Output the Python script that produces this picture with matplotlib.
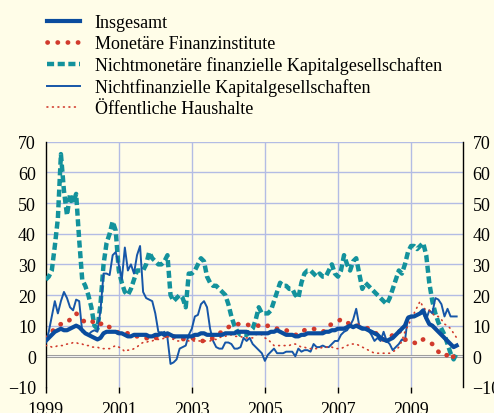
import numpy as np
import matplotlib
matplotlib.use('Agg')
import matplotlib.pyplot as plt
from matplotlib.lines import Line2D

# monthly values, Jan 1999 .. Apr 2010
insgesamt = [
    5, 6, 7, 8, 8.5, 9, 8.5, 8.5, 9, 9.5, 10, 9.5,
    8.5, 7.5, 7, 6.5, 6, 5.5, 6, 7.5, 8, 8, 8, 8,
    7.5, 7.5, 7, 6.5, 6.5, 7, 7, 7, 7, 7, 6.5, 6.5,
    7, 7, 7.5, 7, 7.5, 7, 6.5, 6.5, 6.5, 6.5, 6.5, 6.5,
    6.5, 7, 7, 7.5, 7.5, 7, 7, 7, 7, 7, 7, 7.5,
    7.5, 7.5, 7.5, 8, 8, 8, 8, 7.5, 7.5, 7.5, 7.5, 7.5,
    7.5, 7.5, 8, 8, 8.5, 8, 7.5, 7, 7, 7, 6.5, 6.5,
    7, 7, 7.5, 7.5, 7.5, 7.5, 7.5, 7.5, 8, 8, 8.5, 8.5,
    9, 9, 9, 9.5, 10, 9.5, 10, 9.5, 9, 9, 8.5, 8,
    7.5, 7, 6, 5.5, 5, 5.5, 6, 7, 8, 9, 10, 12.5,
    13, 13, 13.5, 14, 15, 12.5, 10.5, 10, 9, 8, 7, 6,
    5, 4, 3, 3.5,
]
mfi = [
    6, 7, 8, 9, 10, 10.5, 10.5, 11, 12, 13, 14, 13,
    12, 11, 11, 11.5, 11, 10, 10.5, 11, 10, 9.5, 9, 8.5,
    7.5, 7.5, 7.5, 7.5, 7, 7, 6.5, 6.5, 6.5, 6, 5.5, 6,
    6, 6, 6.5, 6.5, 7, 7.5, 6.5, 6, 5.5, 5.5, 6, 6,
    6, 5.5, 5.5, 5, 5, 5.5, 5.5, 6, 6.5, 7.5, 8, 8.5,
    9.5, 10, 10.5, 10.5, 10.5, 10.5, 10.5, 10, 10, 10, 10, 10,
    9.5, 10, 10, 9.5, 9, 8.5, 8.5, 8.5, 8, 7.5, 7, 7,
    8, 8.5, 9, 9, 9, 8.5, 8.5, 8, 8.5, 10, 10.5, 11,
    11.5, 12, 12, 11, 10.5, 10, 10, 10, 10, 9.5, 9, 8.5,
    8, 7, 5.5, 5.5, 5.5, 6, 7, 8, 8.5, 7, 5.5, 5,
    5, 4.5, 4, 5, 5.5, 5, 4.5, 4, 3, 1.5, 0.5, 0,
    0.5, -1, 0, 1,
]
nmfi = [
    25, 26, 28, 36, 45, 66, 54, 46, 53, 50, 53, 38,
    25, 23, 20, 16, 10, 9, 17, 30, 37, 40, 44, 41,
    28, 24, 21, 20, 22, 25, 28, 28, 28, 30, 34, 32,
    31, 30, 30, 31, 33, 20, 18, 19, 20, 19, 16, 27,
    27, 28, 30, 32, 31, 26, 24, 23, 23, 22, 21, 20,
    17, 13, 10, 8, 7, 7, 7, 8, 9, 12, 16, 14,
    14, 14, 15, 18, 21, 24, 23, 23, 22, 22, 20, 19,
    24, 27, 28, 28, 27, 26, 27, 26, 26, 28, 30, 27,
    26, 28, 33, 30, 28, 31, 32, 27, 22, 24, 23, 22,
    21, 20, 19, 18, 17, 19, 22, 25, 28, 27, 30, 34,
    36, 36, 35, 36, 37, 33, 24, 18, 14, 11, 9, 7,
    4, 1, -1, 1,
]
nfk = [
    4.5, 8, 13, 18, 14, 18, 21, 19, 16, 15, 18.5, 18,
    8, 7.5, 7, 8, 8.5, 8, 15, 27, 27, 26.5, 33, 34,
    30, 25, 35.5, 28, 30, 27, 33, 36, 21, 19, 18.5, 18,
    14, 8, 7.5, 8, 6, -2.5, -2, -1, 2.5, 3, 3.5, 7,
    9, 13, 13.5, 17, 18, 16, 9, 5, 3, 2.5, 2.5, 4.5,
    4.5, 4, 2.5, 2.5, 3, 6, 5, 6, 4, 3, 2, 1,
    -1.5, 0.5, 1.5, 2.5, 1, 1, 1, 1.5, 1.5, 1.5, 0, 2.5,
    1.5, 2, 2, 1.5, 4, 3, 3, 3.5, 3, 3, 4, 5,
    5, 7, 8, 8.5, 10, 12, 15.5, 10, 9.5, 9, 8.5, 7,
    5, 6, 5, 8, 5, 4, 2, 3, 4, 5.5, 5, 13,
    13, 13, 13.5, 14, 14, 12, 15, 14, 19, 18.5, 17, 13,
    15.5, 13, 13, 13,
]
oeff = [
    3.5, 3.5, 3, 3, 3.5, 3.5, 3.5, 4, 4, 4.5, 4.5, 4,
    4, 3.5, 3.5, 3, 3, 3, 2.5, 2.5, 2.5, 2.5, 3, 3.5,
    3, 2.5, 1.5, 2, 2, 2.5, 3, 4, 4.5, 4.5, 5, 5,
    5.5, 5.5, 5.5, 6, 6.5, 6, 5.5, 5, 5, 5.5, 5.5, 5,
    5, 5, 5, 5, 5, 5, 5, 5.5, 5.5, 6, 6.5, 6.5,
    7, 7, 6.5, 6.5, 6.5, 6, 6, 6, 6, 7, 7.5, 7,
    6, 5.5, 4.5, 3.5, 3.5, 3.5, 3.5, 3.5, 3.5, 4, 4, 3.5,
    3, 3, 2.5, 2.5, 2.5, 2.5, 2.5, 3, 3, 3, 3, 2.5,
    2.5, 2.5, 3, 3.5, 4, 4, 4, 3.5, 3, 2.5, 2, 1.5,
    1, 1, 1, 1, 1, 1, 1.5, 2, 3, 5, 8, 10,
    12, 14, 16, 18, 16, 15, 15, 14, 13, 13, 12, 10.5,
    10, 9, 7.5, 6,
]
labels = ['Insgesamt', 'Monetäre Finanzinstitute',
          'Nichtmonetäre finanzielle Kapitalgesellschaften',
          'Nichtfinanzielle Kapitalgesellschaften', 'Öffentliche Haushalte']
year_ticks = [1999, 2001, 2003, 2005, 2007, 2009]

t = 1999 + np.arange(len(insgesamt)) / 12.0

bg = '#FFFDE8'
dark_blue = '#0A4C9E'
blue = '#1656A8'
red = '#D13A2C'
teal = '#13929C'
grid_c = '#B3BCE4'

plt.rcParams['font.family'] = ['Liberation Serif', 'DejaVu Serif']

fig = plt.figure(figsize=(4.94, 4.14), dpi=100, facecolor=bg)
ax = fig.add_axes([0.0925, 0.063, 0.8445, 0.592], facecolor=bg)

ax.plot(t, nmfi, color=teal, lw=3.2, linestyle=(0, (1.6, 0.8)), zorder=3)
ax.plot(t, nfk, color=blue, lw=1.4, zorder=4)
ax.plot(t, oeff, color=red, lw=1.2, linestyle=(0, (0.5, 2.8)), dash_capstyle='round', zorder=4)
ax.plot(t, mfi, color=red, lw=3.4, linestyle=(0, (0.05, 2.1)), dash_capstyle='round', zorder=5)
ax.plot(t, insgesamt, color=dark_blue, lw=3.0, zorder=6)

ax.axhline(0, color='#9E9E9E', lw=2.2, zorder=2)
ax.axhline(0, color='white', lw=0.6, zorder=2)

ax.set_xlim(1999, 2010.42)
ax.set_ylim(-10, 70)
ax.set_yticks(range(-10, 71, 10))
ax.set_xticks(year_ticks)
ax.set_xticklabels([str(y) for y in year_ticks])

for yv in range(10, 71, 10):
    ax.axhline(yv, color=grid_c, lw=1.0, zorder=1)
for xv in year_ticks[1:]:
    ax.axvline(xv, color=grid_c, lw=1.0, zorder=1)

for s in ['top', 'bottom']:
    ax.spines[s].set_visible(False)
ax.spines['left'].set_linewidth(1.0)
ax.spines['right'].set_linewidth(1.0)

ax.tick_params(axis='y', length=0, pad=7, labelsize=13, left=True, right=True,
               labelleft=True, labelright=True)
ax.tick_params(axis='x', length=4, width=1, pad=6, labelsize=13, direction='out')

handles = [
    Line2D([], [], color=dark_blue, lw=3.0),
    Line2D([], [], color=red, lw=3.4, linestyle=(0, (0.05, 2.1)), dash_capstyle='round'),
    Line2D([], [], color=teal, lw=3.2, linestyle=(0, (1.6, 0.8))),
    Line2D([], [], color=blue, lw=1.4),
    Line2D([], [], color=red, lw=1.2, linestyle=(0, (0.5, 2.8)), dash_capstyle='round'),
]
fig.legend(handles, labels, loc='upper left', bbox_to_anchor=(0.069, 0.994),
           frameon=False, fontsize=13, handlelength=1.83, handletextpad=0.83,
           labelspacing=0.23, borderaxespad=0.3)

fig.savefig('out.png', dpi=100, facecolor=bg)
